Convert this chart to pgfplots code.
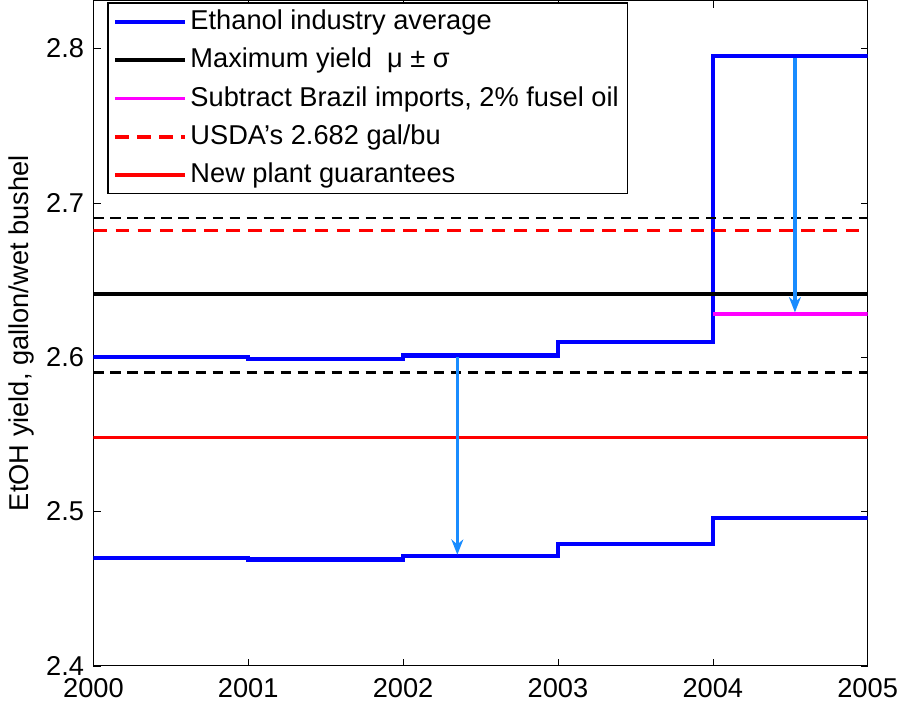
\documentclass[border=0pt]{standalone}
\usepackage{pgfplots}
\pgfplotsset{compat=1.18}
\usepackage{fontspec}
\setmainfont{Liberation Sans}
\definecolor{arr}{rgb}{0.1,0.55,1}
\definecolor{mag}{rgb}{1,0,1}
\usetikzlibrary{arrows.meta}
\begin{document}
\fontsize{16}{18}\selectfont
\begin{tikzpicture}
\begin{axis}[scale only axis, width=455pt, height=391pt,
 xmin=2000, xmax=2005, ymin=2.4, ymax=2.831,
 xtick={2000,...,2005}, ytick={2.4,2.5,...,2.8},
 /pgf/number format/assume math mode=true,
 xticklabel style={/pgf/number format/1000 sep={}, yshift=-2pt},
 yticklabel style={/pgf/number format/fixed,/pgf/number format/precision=1},
 ylabel={EtOH yield, gallon/wet bushel}, ylabel style={yshift=-4pt},
 tick align=inside, tick style={black}, axis line style={line width=0.6pt},
 legend style={at={(0.018,0.997)}, anchor=north west, font=\fontsize{16}{18}\selectfont, cells={anchor=west}, row sep=4.5pt, line width=0.8pt},
 legend image code/.code={\draw[#1, line width=2.2pt] (0cm,0cm) -- (1.45cm,0cm);},
 legend cell align=left]
\addplot[blue, line width=2.5pt, const plot] coordinates {(2000,2.600)(2001,2.599)(2002,2.601)(2003,2.610)(2004,2.795)(2005,2.795)};
\addlegendentry{Ethanol industry average}
\addplot[black, line width=2pt] coordinates {(2000,2.641)(2005,2.641)};
\addlegendentry{Maximum yield \ μ ± σ}
\addplot[mag, line width=2pt] coordinates {(2004,2.628)(2005,2.628)};
\addlegendentry{Subtract Brazil imports, 2\% fusel oil}
\addplot[red, line width=2pt, dash pattern=on 8pt off 5pt] coordinates {(2000,2.682)(2005,2.682)};
\addlegendentry{USDA's 2.682 gal/bu}
\addplot[red, line width=2pt] coordinates {(2000,2.548)(2005,2.548)};
\addlegendentry{New plant guarantees}
\addplot[blue, line width=2.5pt, const plot, forget plot] coordinates {(2000,2.470)(2001,2.469)(2002,2.471)(2003,2.479)(2004,2.496)(2005,2.496)};
\addplot[black, line width=1.3pt, dash pattern=on 6pt off 4pt, forget plot] coordinates {(2000,2.690)(2005,2.690)};
\addplot[black, line width=1.3pt, dash pattern=on 6pt off 4pt, forget plot] coordinates {(2000,2.590)(2005,2.590)};
\addplot[arr, line width=2pt, -{Stealth[length=9pt,width=7pt]}, forget plot] coordinates {(2002.35,2.600)(2002.35,2.472)};
\addplot[arr, line width=2pt, -{Stealth[length=9pt,width=7pt]}, forget plot] coordinates {(2004.53,2.794)(2004.53,2.629)};
\end{axis}
\end{tikzpicture}
\end{document}
